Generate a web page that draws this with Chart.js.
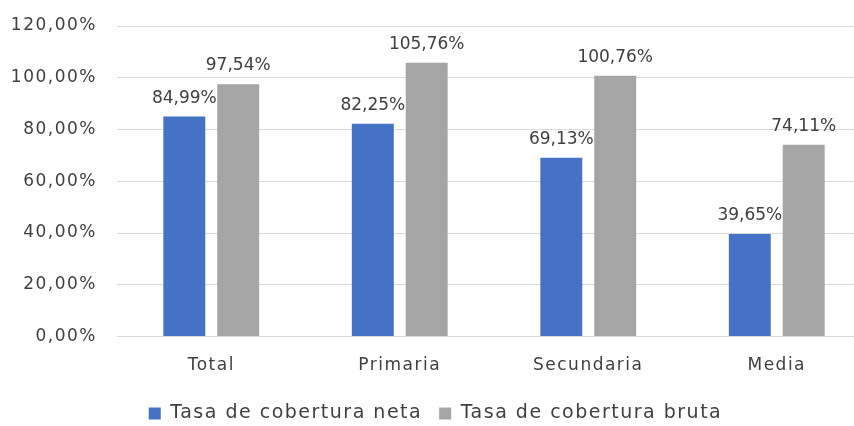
<!DOCTYPE html>
<html>
<head>
<meta charset="utf-8">
<script src="https://cdn.jsdelivr.net/npm/chart.js@4/dist/chart.umd.min.js"></script>
<style>
  html, body { margin: 0; padding: 0; background: #fff; overflow: hidden; }
  #wrap { width: 854px; height: 426px; overflow: hidden; }
  #inner { width: 871px; height: 426px; }
</style>
</head>
<body>
<div id="wrap"><div id="inner"><canvas id="chart"></canvas></div></div>
<script>
const categories = ['Total', 'Primaria', 'Secundaria', 'Media'];
const netaValues = [84.99, 82.25, 69.13, 39.65];
const brutaValues = [97.54, 105.76, 100.76, 74.11];
const yTicks = [0, 20, 40, 60, 80, 100, 120];

const fmt = v => v.toFixed(2).replace('.', ',') + '%';
const FONT = "'DejaVu Sans', sans-serif";

// wider text, closer to the original font
const spacing = {
  id: 'spacing',
  beforeLayout(chart) { chart.ctx.letterSpacing = '1.5px'; },
  beforeDraw(chart) { chart.ctx.letterSpacing = '1.5px'; }
};

// draws the value above each bar
const valueLabels = {
  id: 'valueLabels',
  afterDatasetsDraw(chart) {
    const ctx = chart.ctx;
    ctx.save();
    ctx.letterSpacing = '0px';
    ctx.font = '17px ' + FONT;
    ctx.fillStyle = '#404040';
    ctx.textAlign = 'center';
    ctx.textBaseline = 'bottom';
    chart.data.datasets.forEach((ds, i) => {
      chart.getDatasetMeta(i).data.forEach((bar, j) => {
        ctx.fillText(fmt(ds.data[j]), bar.x, bar.y - 10);
      });
    });
    ctx.restore();
  }
};

const ctx = document.getElementById('chart').getContext('2d');
new Chart(ctx, {
  type: 'bar',
  data: {
    labels: categories,
    datasets: [
      {
        label: 'Tasa de cobertura neta',
        data: netaValues,
        backgroundColor: '#4472C4',
        categoryPercentage: 0.572,
        barPercentage: 0.778
      },
      {
        label: 'Tasa de cobertura bruta',
        data: brutaValues,
        backgroundColor: '#A5A5A5',
        categoryPercentage: 0.572,
        barPercentage: 0.778
      }
    ]
  },
  options: {
    responsive: true,
    maintainAspectRatio: false,
    animation: false,
    layout: { padding: { top: 26, right: 0, left: 0, bottom: -7 } },
    plugins: {
      legend: {
        position: 'bottom',
        labels: {
          usePointStyle: true,
          pointStyle: 'rect',
          boxWidth: 12,
          boxHeight: 12,
          padding: 17,
          color: '#404040',
          font: { family: FONT, size: 19 }
        }
      },
      tooltip: { enabled: false }
    },
    scales: {
      x: {
        grid: { display: false },
        border: { display: false },
        ticks: { color: '#404040', font: { family: FONT, size: 17 }, padding: 11 }
      },
      y: {
        min: 0,
        max: 120,
        afterBuildTicks(scale) {
          scale.ticks = yTicks.map(v => ({ value: v }));
        },
        afterFit(scale) {
          scale.width = 117;
          scale.paddingTop = 0;
        },
        grid: { color: '#D9D9D9', lineWidth: 1, drawTicks: false },
        border: { display: false },
        ticks: {
          color: '#404040',
          font: { family: FONT, size: 17 },
          padding: 20,
          callback: v => fmt(v)
        }
      }
    }
  },
  plugins: [spacing, valueLabels]
});
</script>
</body>
</html>
